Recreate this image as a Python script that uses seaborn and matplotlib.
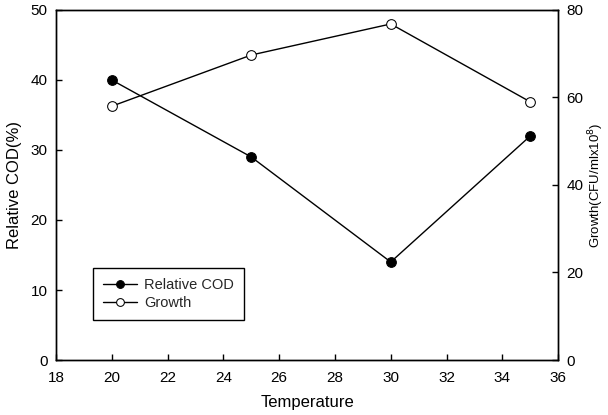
import pandas as pd
import matplotlib
matplotlib.use("Agg")
import matplotlib.pyplot as plt
import seaborn as sns

# data
temperature = [20, 25, 30, 35]
relative_cod = [40, 29, 14, 32]
growth = [58, 69.7, 76.8, 59]

df = pd.DataFrame({"Temperature": temperature,
                   "Relative COD": relative_cod,
                   "Growth": growth})

sns.set_theme(style="ticks")
plt.rcParams['font.family'] = ['Liberation Sans', 'DejaVu Sans']
plt.rcParams.update({
    'xtick.direction': 'in',
    'ytick.direction': 'in',
    'axes.linewidth': 1.0,
    'axes.edgecolor': 'black',
})

fig = plt.figure(figsize=(6.08, 4.15), dpi=100)
ax1 = fig.add_axes([0.092, 0.1325, 0.826, 0.8435])
ax2 = ax1.twinx()

sns.lineplot(data=df, x="Temperature", y="Relative COD", ax=ax1, color='black',
             marker='o', markersize=7, markerfacecolor='black', markeredgecolor='black',
             linewidth=1, label='Relative COD', legend=False)
sns.lineplot(data=df, x="Temperature", y="Growth", ax=ax2, color='black',
             marker='o', markersize=7, markerfacecolor='white', markeredgecolor='black',
             linewidth=1, label='Growth', legend=False)

ax1.set_xlim(18, 36)
ax1.set_ylim(0, 50)
ax2.set_ylim(0, 80)
ax1.set_xticks(range(18, 37, 2))
ax1.set_yticks(range(0, 51, 10))
ax2.set_yticks(range(0, 81, 20))

ax1.set_xlabel('Temperature', fontsize=12, color='black', labelpad=7)
ax1.set_ylabel('Relative COD(%)', fontsize=12, color='black', labelpad=6)
ax2.set_ylabel('Growth(CFU/mlx10$^8$)', fontsize=9.5, color='black', labelpad=2)

for ax in (ax1, ax2):
    ax.tick_params(labelsize=11, colors='black', length=4, width=1, pad=6)
    for s in ax.spines.values():
        s.set_visible(True)
        s.set_color('black')
ax1.tick_params(axis='x', pad=8)

lines = ax1.get_lines() + ax2.get_lines()
labels = [l.get_label() for l in lines]
leg = ax1.legend(lines, labels, loc='lower left', bbox_to_anchor=(0.074, 0.114),
                 borderaxespad=0, fancybox=False, edgecolor='black', framealpha=1,
                 fontsize=10.5, handlelength=2.3, handletextpad=0.5, labelspacing=0.25,
                 borderpad=0.7, markerscale=0.8)
leg.get_frame().set_linewidth(1)

fig.savefig('out.png', dpi=100)
